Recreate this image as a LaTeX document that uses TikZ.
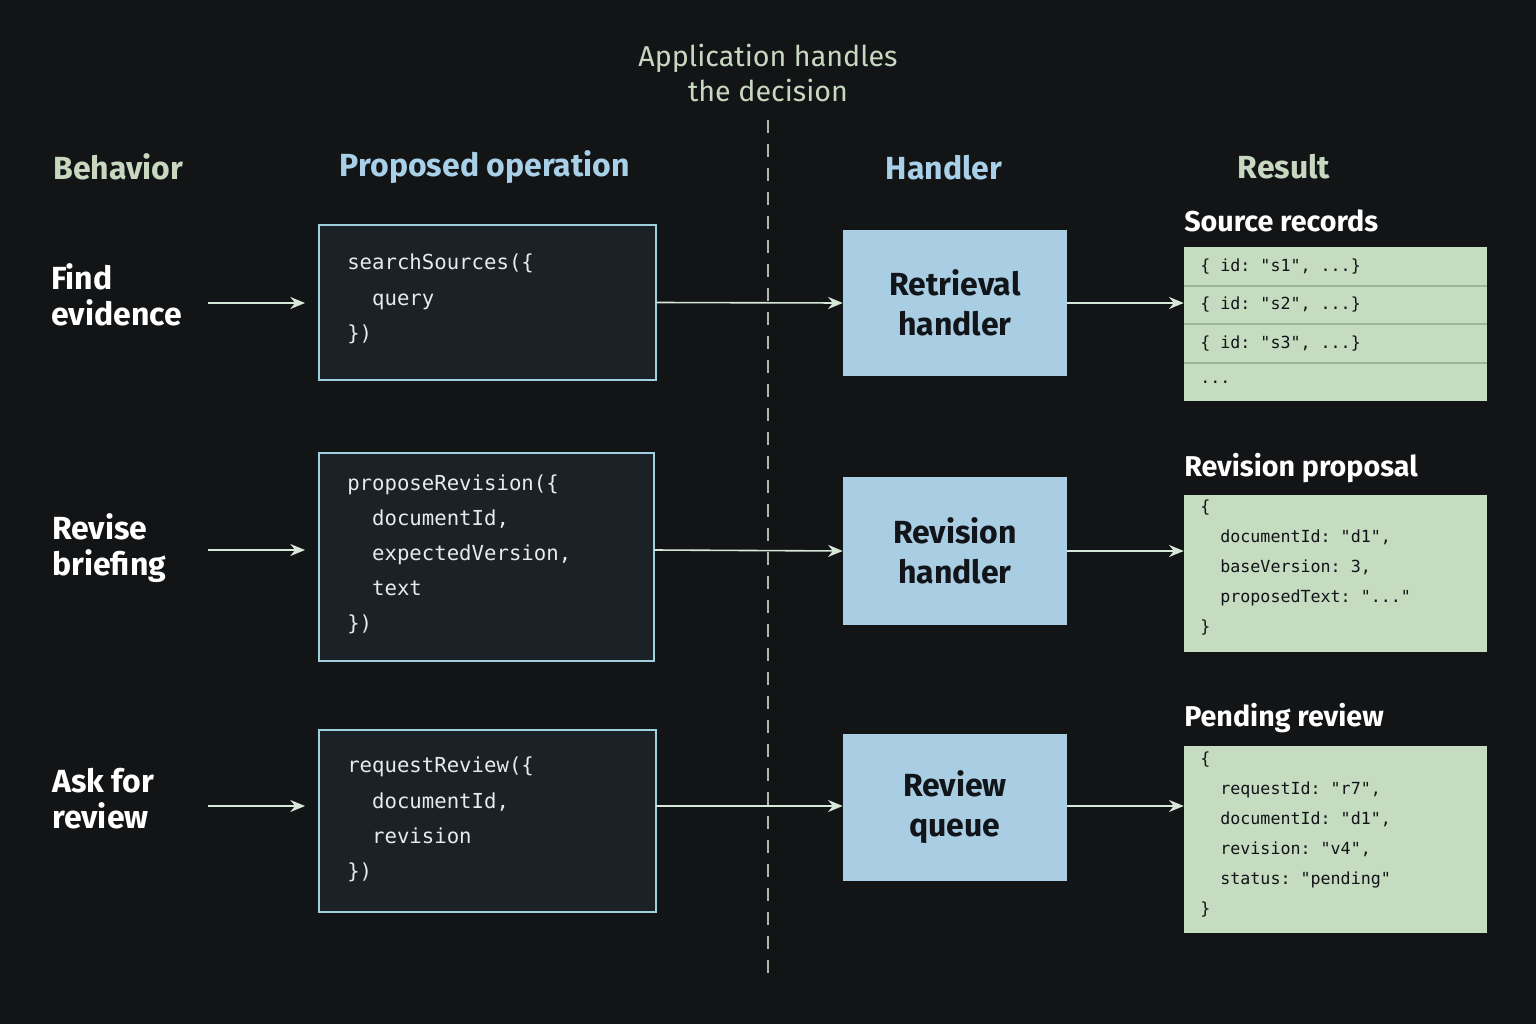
\documentclass[tikz,border=0pt]{standalone}
\usepackage{fontspec}
\setmainfont{Fira Sans}
\setmonofont{DejaVu Sans Mono}
\usetikzlibrary{arrows.meta}
\definecolor{bg}{HTML}{131416}
\definecolor{codefill}{HTML}{1A2228}
\definecolor{codeline}{HTML}{9FD0E0}
\definecolor{handfill}{HTML}{A9CDE3}
\definecolor{resfill}{HTML}{C5DCC0}
\definecolor{resline}{HTML}{9DB59A}
\definecolor{hdgreen}{HTML}{C8D8C0}
\definecolor{hdblue}{HTML}{A8D0E8}
\definecolor{arr}{HTML}{D8E8D8}
\definecolor{dark}{HTML}{111418}
\definecolor{codetext}{HTML}{E4ECEC}
\tikzset{
 hdr/.style={font=\fontsize{24}{28}\selectfont\bfseries},
 beh/.style={font=\fontsize{24}{27}\selectfont\bfseries, text=white, align=left, anchor=west, inner sep=0},
 codebox/.style={draw=codeline, line width=1.2pt, fill=codefill},
 codetxt/.style={font=\fontsize{15.5}{26.5}\selectfont\ttfamily, text=codetext, align=left, anchor=north west, inner sep=0},
 handbox/.style={fill=handfill},
 handtxt/.style={font=\fontsize{24}{30}\selectfont\bfseries, text=dark, align=center},
 resbox/.style={fill=resfill},
 restxt/.style={font=\fontsize{12.5}{22.5}\selectfont\ttfamily, text=dark, align=left, anchor=north west, inner sep=0},
 rtitle/.style={font=\fontsize{21.5}{26}\selectfont\bfseries, text=white, anchor=west, inner sep=0},
 flow/.style={draw=arr, line width=1.2pt, -{Stealth[length=11pt,width=9pt]}},
}
\begin{document}
\begin{tikzpicture}[x=0.75pt,y=-0.75pt]
\fill[bg] (0,0) rectangle (1536,1024);
\node[hdr, text=hdgreen, font=\fontsize{21.5}{26.5}\selectfont, align=center] (app) at (768,73) {Application handles\\the decision};
\coordinate (dtop) at (768,120); \coordinate (dbot) at (768,975);
\draw[arr!80!black, line width=1.2pt, dash pattern=on 10pt off 8pt] (dtop) -- (dbot);
\node[hdr, text=hdgreen, anchor=west, inner sep=0] (h1) at (53,167) {Behavior};
\node[hdr, text=hdblue] (h2) at (485,167) {Proposed operation};
\node[hdr, text=hdblue] (h3) at (944,168) {Handler};
\node[hdr, text=hdgreen] (h4) at (1284,167) {Result};
% row 1
\node[beh] (b1) at (51,295) {Find\\evidence};
\coordinate (a1) at (208,303);
\draw[codebox] (319,225) rectangle (656,380);
\node[inner sep=0, minimum width=337*0.75pt, minimum height=155*0.75pt] (c1) at (487.5,302.5) {};
\node[codetxt] (ct1) at (347,254) {searchSources(\{\\\ \ query\\\})};
\node[handbox, minimum width=224*0.75pt, minimum height=146*0.75pt, handtxt] (r1) at (955,303) {Retrieval\\handler};
\node[rtitle] (t1) at (1184,221) {Source records};
\node[resbox, minimum width=303*0.75pt, minimum height=154*0.75pt, inner sep=0] (s1) at (1335.5,324) {};
\foreach \yy in {286,324,363} \draw[resline, line width=1pt] (1184,\yy) -- (1487,\yy);
\node[restxt, anchor=west] (s1a) at (1200,267) {\{ id: "s1", ...\}};
\node[restxt, anchor=west] (s1b) at (1200,305) {\{ id: "s2", ...\}};
\node[restxt, anchor=west] (s1c) at (1200,344) {\{ id: "s3", ...\}};
\node[restxt, anchor=west] (s1d) at (1200,382) {...};
\draw[flow] (a1) -- (305,303);
\draw[flow] (c1.east) -- (r1.west);
\draw[flow] (r1.east) -- (s1.west |- r1.east);
% row 2
\node[beh] (b2) at (52,548) {Revise\\briefing};
\coordinate (a2) at (208,550);
\draw[codebox] (319,453) rectangle (654,661);
\node[inner sep=0, minimum width=335*0.75pt, minimum height=208*0.75pt] (c2) at (486.5,550) {};
\node[codetxt, font=\fontsize{15.5}{26.2}\selectfont\ttfamily] (ct2) at (347,475) {proposeRevision(\{\\\ \ documentId,\\\ \ expectedVersion,\\\ \ text\\\})};
\node[handbox, minimum width=224*0.75pt, minimum height=148*0.75pt, handtxt] (r2) at (955,551) {Revision\\handler};
\node[rtitle] (t2) at (1184,468) {Revision proposal};
\node[resbox, minimum width=303*0.75pt, minimum height=157*0.75pt, inner sep=0] (s2) at (1335.5,573.5) {};
\node[restxt] (st2) at (1200,500) {\{\\\ \ documentId: "d1",\\\ \ baseVersion: 3,\\\ \ proposedText: "..."\\\}};
\draw[flow] (a2) -- (305,550);
\draw[flow] (c2.east) -- (r2.west);
\draw[flow] (r2.east) -- (s2.west |- r2.east);
% row 3
\node[beh] (b3) at (52,799) {Ask for\\review};
\coordinate (a3) at (208,806);
\draw[codebox] (319,730) rectangle (656,912);
\node[inner sep=0, minimum width=337*0.75pt, minimum height=182*0.75pt] (c3) at (487.5,806) {};
\node[codetxt] (ct3) at (347,757) {requestReview(\{\\\ \ documentId,\\\ \ revision\\\})};
\node[handbox, minimum width=224*0.75pt, minimum height=147*0.75pt, handtxt] (r3) at (955,807.5) {Review\\queue};
\node[rtitle] (t3) at (1184,718) {Pending review};
\node[resbox, minimum width=303*0.75pt, minimum height=187*0.75pt, inner sep=0] (s3) at (1335.5,839.5) {};
\node[restxt] (st3) at (1200,752) {\{\\\ \ requestId: "r7",\\\ \ documentId: "d1",\\\ \ revision: "v4",\\\ \ status: "pending"\\\}};
\draw[flow] (a3) -- (305,806);
\draw[flow] (c3.east) -- (r3.west |- c3.east);
\draw[flow] (r3.east |- c3.east) -- (s3.west |- c3.east);
\end{tikzpicture}
\end{document}
